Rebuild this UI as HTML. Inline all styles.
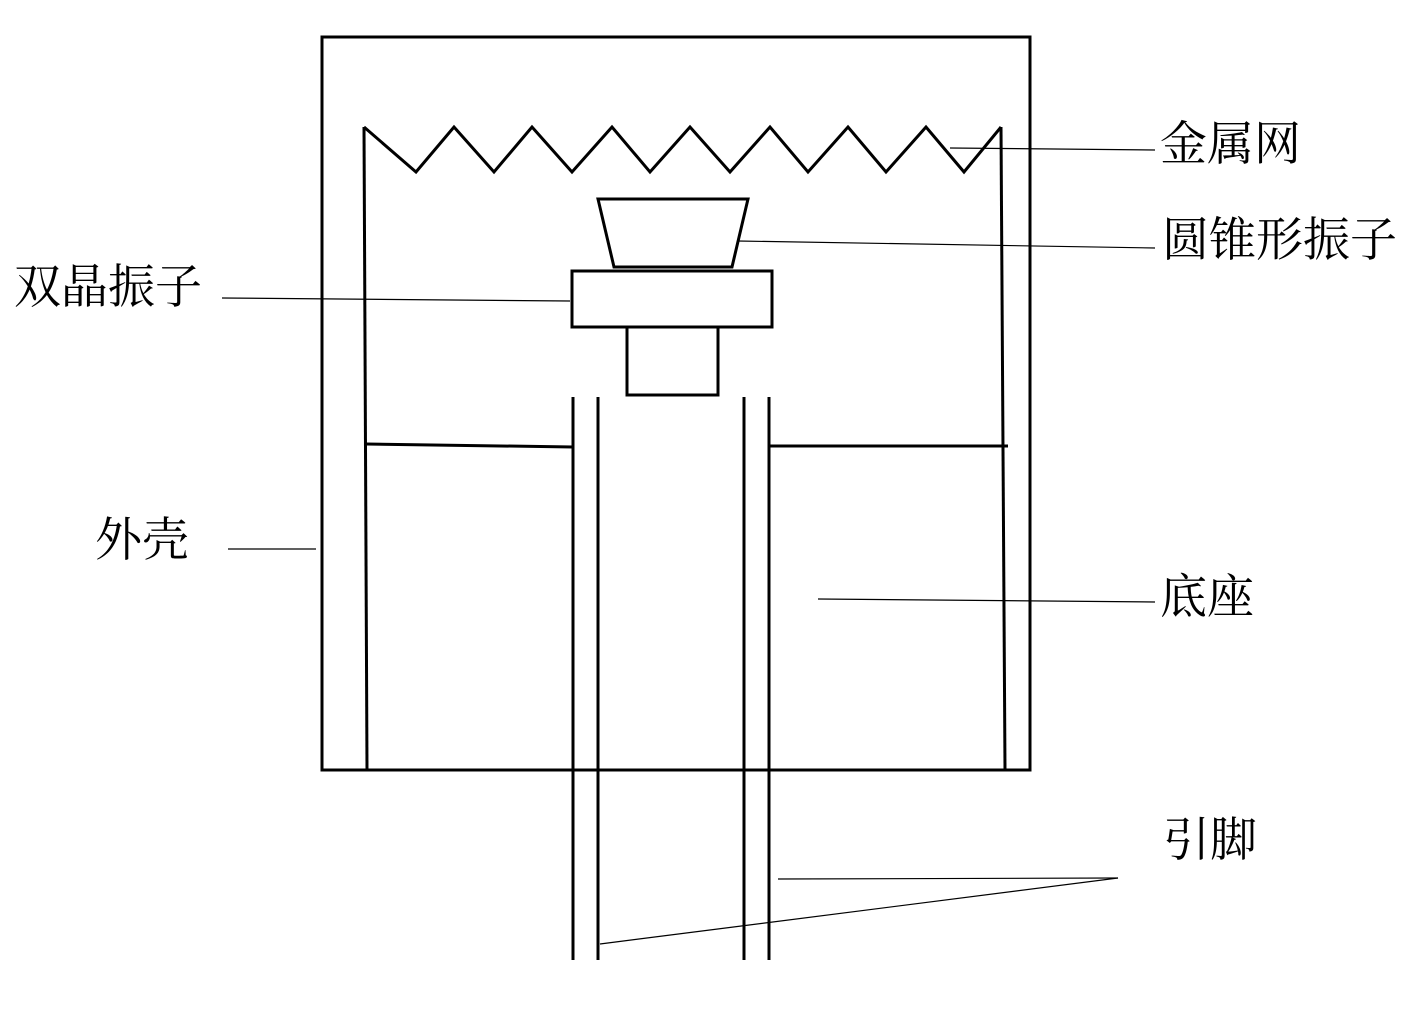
<!DOCTYPE html>
<html><head><meta charset="utf-8"><style>
html,body{margin:0;padding:0;background:#fff;}
svg{display:block;}
text{font-family:"Liberation Serif","Noto Serif CJK SC",serif;font-size:47px;fill:#000;dominant-baseline:middle;}
</style></head><body>
<svg width="1418" height="1009" viewBox="0 0 1418 1009">
<g fill="none" stroke="#000" stroke-width="3">
<rect x="322" y="37" width="708" height="733"/>
<polyline points="364,127 416,172 454,127 494,172 532,127 572,172 612,127 650,172 690,127 730,172 770,127 808,172 848,127 886,172 926,127 964,172 1001,127"/>
<line x1="364" y1="127" x2="367" y2="770"/>
<line x1="1001" y1="127" x2="1005" y2="770"/>
<line x1="366" y1="444" x2="573" y2="447"/>
<line x1="768" y1="446" x2="1008" y2="446"/>
<line x1="573" y1="397" x2="573" y2="960"/>
<line x1="598" y1="397" x2="598" y2="960"/>
<line x1="744" y1="397" x2="744" y2="960"/>
<line x1="769" y1="397" x2="769" y2="960"/>
<polygon points="598,199 748,199 732,267 614,267"/>
<rect x="572" y="271" width="200" height="56"/>
<rect x="627" y="327" width="91" height="68"/>
</g>
<g stroke="#000" stroke-width="1.2">
<line x1="950" y1="148" x2="1155" y2="150"/>
<line x1="738" y1="241" x2="1155" y2="248"/>
<line x1="222" y1="298" x2="570" y2="301"/>
<line x1="228" y1="549" x2="316" y2="549"/>
<line x1="818" y1="599" x2="1155" y2="602"/>
<line x1="778" y1="879" x2="1118" y2="878"/>
<line x1="600" y1="944" x2="1118" y2="878"/>
</g>
<text x="1160" y="149">金属网</text>
<text x="1162" y="245">圆锥形振子</text>
<text x="14" y="292">双晶振子</text>
<text x="95" y="545">外壳</text>
<text x="1160" y="602">底座</text>
<text x="1163" y="845">引脚</text>
</svg>
</body></html>
